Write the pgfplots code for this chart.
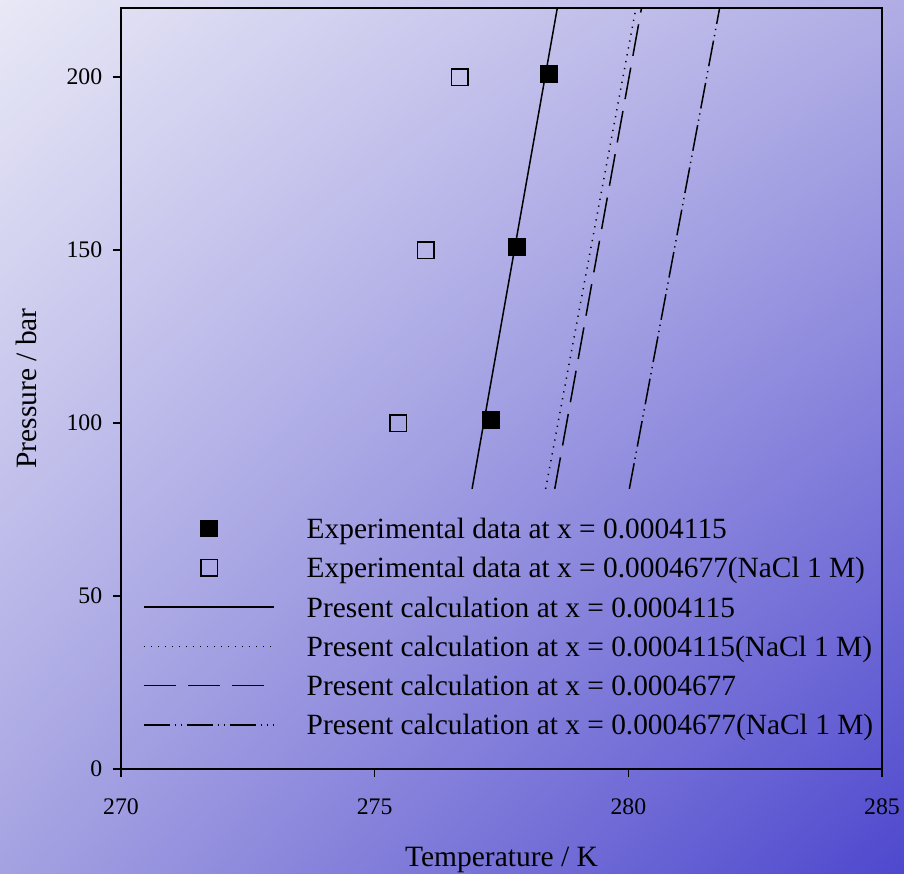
\documentclass[border=0pt]{standalone}
\usepackage{fontspec}
\setmainfont{Liberation Serif}
\usepackage{pgfplots}
\pgfplotsset{compat=1.18}
\usetikzlibrary{backgrounds,shadings}

\definecolor{bgUL}{RGB}{232,232,246}
\definecolor{bgUR}{RGB}{176,173,229}
\definecolor{bgLL}{RGB}{165,162,226}
\definecolor{bgLR}{RGB}{78,72,206}

\begin{document}
\begin{tikzpicture}
\begin{axis}[
  name=ax, at={(0,0)}, anchor=south west,
  scale only axis, width=304.4pt, height=304.4pt,
  xmin=270, xmax=285, ymin=0, ymax=220,
  xtick={270,275,280,285}, ytick={0,50,100,150,200},
  tick align=outside, tick pos=left, major tick length=3.2pt,
  axis line style={line width=0.6pt},
  tick style={line width=0.6pt, black},
  /pgf/number format/assume math mode=true,
  tick label style={font=\fontsize{9.5pt}{11pt}\selectfont},
  yticklabel style={xshift=-0.8pt},
  xticklabel style={yshift=-5pt},
  label style={font=\fontsize{11.8pt}{14pt}\selectfont},
  xlabel={Temperature / K},
  xlabel style={at={(axis description cs:0.5,-0.1275)}, anchor=base},
  ylabel={Pressure / bar},
  ylabel style={at={(axis description cs:-0.1104,0.5)}, anchor=base, rotate=0},
  legend image code/.code={
    \path[draw=none, fill=none] (0pt,0pt) rectangle (65pt,8pt);
    \draw[mark repeat=2, mark phase=2, #1]
      plot coordinates {(0pt,4pt) (26pt,4pt) (52pt,4pt)};
  },
  legend style={draw=none, fill=none, at={(0.0289,0.3364)}, anchor=north west,
                inner sep=0pt, row sep=2.2pt,
                cells={anchor=base west},
                nodes={inner sep=0pt, text height=10pt, text depth=3.5pt},
                font=\fontsize{11.75pt}{14.4pt}\selectfont},
]

% measured points, pure water
\addplot[only marks, mark=square*, mark size=3.3pt,
         mark options={fill=black, draw=black, line width=0.5pt}]
  coordinates {(277.29,101) (277.81,151) (278.44,201)};
\addlegendentry{Experimental data at x = 0.0004115}

% measured points, NaCl 1 M
\addplot[only marks, mark=square, mark size=3.3pt,
         mark options={draw=black, line width=0.6pt}]
  coordinates {(275.46,100) (276.01,150) (276.68,200)};
\addlegendentry{Experimental data at x = 0.0004677(NaCl 1 M)}

% model curves
\addplot[black, line width=0.6pt]
  coordinates {(276.92,81) (278.60,220)};
\addlegendentry{Present calculation at x = 0.0004115}

\addplot[black, line width=0.6pt, dash pattern=on 0.5pt off 2.3pt]
  coordinates {(278.37,81) (280.15,220)};
\addlegendentry{Present calculation at x = 0.0004115(NaCl 1 M)}

\addplot[black, line width=0.6pt, dash pattern=on 12.8pt off 4.8pt]
  coordinates {(278.55,81) (280.26,220)};
\addlegendentry{Present calculation at x = 0.0004677}

\addplot[black, line width=0.6pt,
         dash pattern=on 10.4pt off 1.8pt on 0.5pt off 2pt on 0.5pt off 2pt]
  coordinates {(280.02,81) (281.80,220)};
\addlegendentry{Present calculation at x = 0.0004677(NaCl 1 M)}
\end{axis}

\begin{scope}[on background layer]
  \shade[upper left=bgUL, upper right=bgUR, lower left=bgLL, lower right=bgLR]
    (-48.4pt,-41.6pt) rectangle (313.2pt,307.6pt);
\end{scope}
\pgfresetboundingbox
\path (-48.4pt,-41.6pt) rectangle (313.2pt,307.6pt);
\end{tikzpicture}
\end{document}
